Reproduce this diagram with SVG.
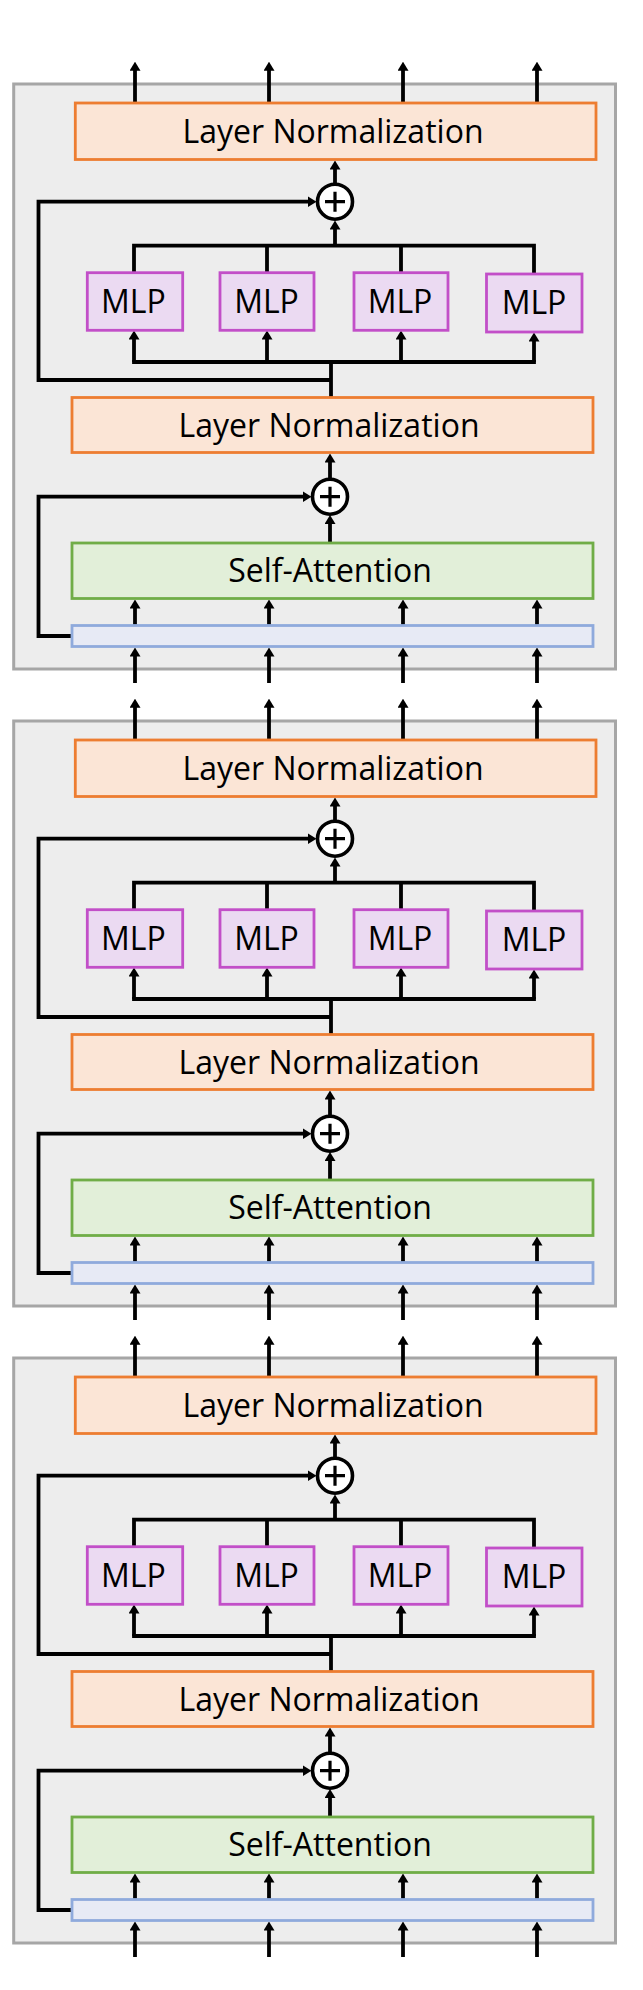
<svg xmlns="http://www.w3.org/2000/svg" width="643" height="1990" viewBox="0 0 643 1990">
<defs>
<style>
.frame{fill:#ededed;stroke:#a6a6a6;stroke-width:3}
.ln{fill:#fbe5d6;stroke:#ed7d31;stroke-width:2.8}
.mlp{fill:#ebdaf2;stroke:#c24fc8;stroke-width:2.8}
.sa{fill:#e2efd9;stroke:#70ad47;stroke-width:2.8}
.bar{fill:#e7eaf5;stroke:#8faadc;stroke-width:2.8}
.add{fill:#fff;stroke:#000;stroke-width:3.6}
.plus{stroke:#000;stroke-width:3.2;fill:none}
.w{fill:none;stroke:#000;stroke-width:3.8;stroke-linejoin:miter}
.a{marker-end:url(#ah)}
.sq{stroke-linecap:square}
.lbl{font-family:"Open Sans","Liberation Sans",sans-serif;font-size:32px;text-anchor:middle;fill:#000}
</style>
<marker id="ah" viewBox="0 0 9 11" refX="1.5" refY="5.5" markerWidth="9" markerHeight="11" markerUnits="userSpaceOnUse" orient="auto"><path d="M0,0 L9,5.5 L0,11 z" fill="#000"/></marker>
</defs>

<g id="b1-frame"><rect class="frame" x="13.7" y="84" width="601.8" height="585"/></g>
<g id="b2-frame" transform="translate(0,637)"><rect class="frame" x="13.7" y="84" width="601.8" height="585"/></g>
<g id="b3-frame" transform="translate(0,1274)"><rect class="frame" x="13.7" y="84" width="601.8" height="585"/></g>

<g id="connectors">
<g id="b1-conn">
<path class="w a" d="M135,103V69.2"/><path class="w a" d="M269,103V69.2"/><path class="w a" d="M403,103V69.2"/><path class="w a" d="M537,103V69.2"/>
<path class="w a" d="M335,183V168"/>
<path class="w" d="M134,273V245.7H534V274M267,245.7V273M401,245.7V273"/>
<path class="w a" d="M335,245.7V228"/>
<path class="w a" d="M331,380H38.5V201.7H309"/>
<path class="w" d="M331,397V362"/>
<path class="w sq" d="M134,362H534"/>
<path class="w a" d="M134,362V338"/><path class="w a" d="M267,362V338"/><path class="w a" d="M401,362V338"/><path class="w a" d="M534,362V340"/>
<path class="w a" d="M330,479V461"/>
<path class="w a" d="M330,543V522.5"/>
<path class="w a" d="M72,636H38.5V496.7H304"/>
<path class="w a" d="M135,625.5V607"/><path class="w a" d="M269,625.5V607"/><path class="w a" d="M403,625.5V607"/><path class="w a" d="M537,625.5V607"/>
<path class="w a" d="M135,683V655"/><path class="w a" d="M269,683V655"/><path class="w a" d="M403,683V655"/><path class="w a" d="M537,683V655"/>
</g>
<g id="b2-conn" transform="translate(0,637)">
<path class="w a" d="M135,103V69.2"/><path class="w a" d="M269,103V69.2"/><path class="w a" d="M403,103V69.2"/><path class="w a" d="M537,103V69.2"/>
<path class="w a" d="M335,183V168"/>
<path class="w" d="M134,273V245.7H534V274M267,245.7V273M401,245.7V273"/>
<path class="w a" d="M335,245.7V228"/>
<path class="w a" d="M331,380H38.5V201.7H309"/>
<path class="w" d="M331,397V362"/>
<path class="w sq" d="M134,362H534"/>
<path class="w a" d="M134,362V338"/><path class="w a" d="M267,362V338"/><path class="w a" d="M401,362V338"/><path class="w a" d="M534,362V340"/>
<path class="w a" d="M330,479V461"/>
<path class="w a" d="M330,543V522.5"/>
<path class="w a" d="M72,636H38.5V496.7H304"/>
<path class="w a" d="M135,625.5V607"/><path class="w a" d="M269,625.5V607"/><path class="w a" d="M403,625.5V607"/><path class="w a" d="M537,625.5V607"/>
<path class="w a" d="M135,683V655"/><path class="w a" d="M269,683V655"/><path class="w a" d="M403,683V655"/><path class="w a" d="M537,683V655"/>
</g>
<g id="b3-conn" transform="translate(0,1274)">
<path class="w a" d="M135,103V69.2"/><path class="w a" d="M269,103V69.2"/><path class="w a" d="M403,103V69.2"/><path class="w a" d="M537,103V69.2"/>
<path class="w a" d="M335,183V168"/>
<path class="w" d="M134,273V245.7H534V274M267,245.7V273M401,245.7V273"/>
<path class="w a" d="M335,245.7V228"/>
<path class="w a" d="M331,380H38.5V201.7H309"/>
<path class="w" d="M331,397V362"/>
<path class="w sq" d="M134,362H534"/>
<path class="w a" d="M134,362V338"/><path class="w a" d="M267,362V338"/><path class="w a" d="M401,362V338"/><path class="w a" d="M534,362V340"/>
<path class="w a" d="M330,479V461"/>
<path class="w a" d="M330,543V522.5"/>
<path class="w a" d="M72,636H38.5V496.7H304"/>
<path class="w a" d="M135,625.5V607"/><path class="w a" d="M269,625.5V607"/><path class="w a" d="M403,625.5V607"/><path class="w a" d="M537,625.5V607"/>
<path class="w a" d="M135,683V655"/><path class="w a" d="M269,683V655"/><path class="w a" d="M403,683V655"/><path class="w a" d="M537,683V655"/>
</g>
</g>

<g id="b1">
<g id="b1-ln-out"><rect class="ln" x="75.3" y="103" width="520.7" height="56.5"/><text class="lbl" x="333" y="142.7">Layer Normalization</text></g>
<g id="b1-add-mlp"><circle class="add" cx="335" cy="201.7" r="17.5"/><path class="plus" d="M325,201.7H345M335,191.7V211.7"/></g>
<g id="b1-mlp1"><rect class="mlp" x="87.3" y="272.7" width="95.4" height="57.6"/><text class="lbl" x="133.3" y="312.5">MLP</text></g>
<g id="b1-mlp2"><rect class="mlp" x="220" y="272.7" width="94" height="57.6"/><text class="lbl" x="266.5" y="312.5">MLP</text></g>
<g id="b1-mlp3"><rect class="mlp" x="354" y="272.7" width="94" height="57.6"/><text class="lbl" x="400" y="312.5">MLP</text></g>
<g id="b1-mlp4"><rect class="mlp" x="486.5" y="274" width="95.5" height="58"/><text class="lbl" x="534" y="314">MLP</text></g>
<g id="b1-ln-mid"><rect class="ln" x="72" y="397.5" width="521" height="55"/><text class="lbl" x="329" y="437.3">Layer Normalization</text></g>
<g id="b1-add-att"><circle class="add" cx="330" cy="496.7" r="17.5"/><path class="plus" d="M320,496.7H340M330,486.7V506.7"/></g>
<g id="b1-sa"><rect class="sa" x="72" y="543" width="521" height="55.5"/><text class="lbl" x="330" y="581.7">Self-Attention</text></g>
<g id="b1-input"><rect class="bar" x="72" y="625.5" width="521" height="21"/></g>
</g>

<g id="b2" transform="translate(0,637)">
<g id="b2-ln-out"><rect class="ln" x="75.3" y="103" width="520.7" height="56.5"/><text class="lbl" x="333" y="142.7">Layer Normalization</text></g>
<g id="b2-add-mlp"><circle class="add" cx="335" cy="201.7" r="17.5"/><path class="plus" d="M325,201.7H345M335,191.7V211.7"/></g>
<g id="b2-mlp1"><rect class="mlp" x="87.3" y="272.7" width="95.4" height="57.6"/><text class="lbl" x="133.3" y="312.5">MLP</text></g>
<g id="b2-mlp2"><rect class="mlp" x="220" y="272.7" width="94" height="57.6"/><text class="lbl" x="266.5" y="312.5">MLP</text></g>
<g id="b2-mlp3"><rect class="mlp" x="354" y="272.7" width="94" height="57.6"/><text class="lbl" x="400" y="312.5">MLP</text></g>
<g id="b2-mlp4"><rect class="mlp" x="486.5" y="274" width="95.5" height="58"/><text class="lbl" x="534" y="314">MLP</text></g>
<g id="b2-ln-mid"><rect class="ln" x="72" y="397.5" width="521" height="55"/><text class="lbl" x="329" y="437.3">Layer Normalization</text></g>
<g id="b2-add-att"><circle class="add" cx="330" cy="496.7" r="17.5"/><path class="plus" d="M320,496.7H340M330,486.7V506.7"/></g>
<g id="b2-sa"><rect class="sa" x="72" y="543" width="521" height="55.5"/><text class="lbl" x="330" y="581.7">Self-Attention</text></g>
<g id="b2-input"><rect class="bar" x="72" y="625.5" width="521" height="21"/></g>
</g>

<g id="b3" transform="translate(0,1274)">
<g id="b3-ln-out"><rect class="ln" x="75.3" y="103" width="520.7" height="56.5"/><text class="lbl" x="333" y="142.7">Layer Normalization</text></g>
<g id="b3-add-mlp"><circle class="add" cx="335" cy="201.7" r="17.5"/><path class="plus" d="M325,201.7H345M335,191.7V211.7"/></g>
<g id="b3-mlp1"><rect class="mlp" x="87.3" y="272.7" width="95.4" height="57.6"/><text class="lbl" x="133.3" y="312.5">MLP</text></g>
<g id="b3-mlp2"><rect class="mlp" x="220" y="272.7" width="94" height="57.6"/><text class="lbl" x="266.5" y="312.5">MLP</text></g>
<g id="b3-mlp3"><rect class="mlp" x="354" y="272.7" width="94" height="57.6"/><text class="lbl" x="400" y="312.5">MLP</text></g>
<g id="b3-mlp4"><rect class="mlp" x="486.5" y="274" width="95.5" height="58"/><text class="lbl" x="534" y="314">MLP</text></g>
<g id="b3-ln-mid"><rect class="ln" x="72" y="397.5" width="521" height="55"/><text class="lbl" x="329" y="437.3">Layer Normalization</text></g>
<g id="b3-add-att"><circle class="add" cx="330" cy="496.7" r="17.5"/><path class="plus" d="M320,496.7H340M330,486.7V506.7"/></g>
<g id="b3-sa"><rect class="sa" x="72" y="543" width="521" height="55.5"/><text class="lbl" x="330" y="581.7">Self-Attention</text></g>
<g id="b3-input"><rect class="bar" x="72" y="625.5" width="521" height="21"/></g>
</g>
</svg>
